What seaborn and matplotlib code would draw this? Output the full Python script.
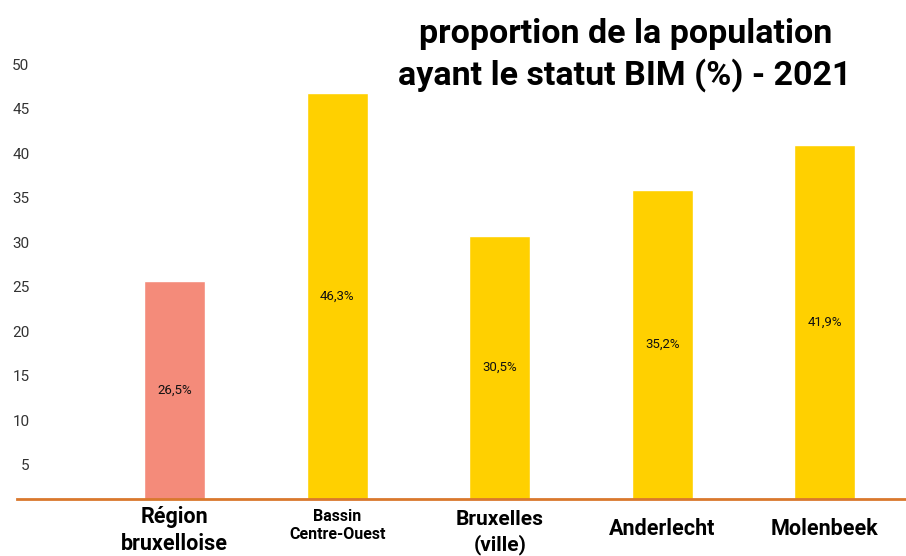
import pandas as pd
import seaborn as sns
import matplotlib.pyplot as plt

# Data
communes = ["Région\nbruxelloise", "Bassin\nCentre-Ouest", "Bruxelles\n(ville)", "Anderlecht", "Molenbeek"]
hauteurs = [25.6, 46.8, 30.7, 35.9, 40.9]
etiquettes = ["26,5%", "46,3%", "30,5%", "35,2%", "41,9%"]
yticks = [5, 10, 15, 20, 25, 30, 35, 40, 45, 50]

couleurs = ["#F48B7A", "#FFD000", "#FFD000", "#FFD000", "#FFD000"]
tailles = [15.5, 11.5, 15, 15.5, 15.5]
decalages = [5, 7, 8, 14, 14]

df = pd.DataFrame({"commune": communes, "bim": hauteurs})

sns.set_theme(style="white")
plt.rcParams["font.family"] = ["Roboto", "DejaVu Sans"]

fig = plt.figure(figsize=(9.06, 5.56), dpi=100)
ax = fig.add_axes([17 / 906, 57 / 556, 889 / 906, 439 / 556])

sns.barplot(data=df, x="commune", y="bim", hue="commune", palette=couleurs,
            legend=False, width=0.375, saturation=1, ax=ax)

for cont, lab in zip(ax.containers, etiquettes):
    ax.bar_label(cont, labels=[lab], label_type="center", fontsize=9.5, color="#111111")

ax.set_xlim(-0.97, 4.5)
ax.set_ylim(1.125, 50.5)
ax.set_yticks(yticks)
ax.set_yticklabels([str(t) for t in yticks], fontsize=11, color="#333333")
ax.tick_params(axis="y", length=0, pad=-9)
ax.tick_params(axis="x", length=0)

for tick, t, d in zip(ax.xaxis.get_major_ticks(), tailles, decalages):
    tick.set_pad(d)
    lbl = tick.label1
    lbl.set_fontsize(t)
    lbl.set_fontweight("bold")
    lbl.set_color("black")
    lbl.set_linespacing(1.3)

for s in ["left", "right", "top"]:
    ax.spines[s].set_visible(False)
ax.spines["bottom"].set_color("#D9782D")
ax.spines["bottom"].set_linewidth(2)

ax.set_xlabel("")
ax.set_ylabel("")

fig.text(0.69, 1 - 55 / 556, "proportion de la population\nayant le statut BIM (%) - 2021",
         ha="center", va="center", fontsize=24.5, fontweight="bold", color="black",
         linespacing=1.3)

fig.savefig("out.png", dpi=100)
plt.close()
